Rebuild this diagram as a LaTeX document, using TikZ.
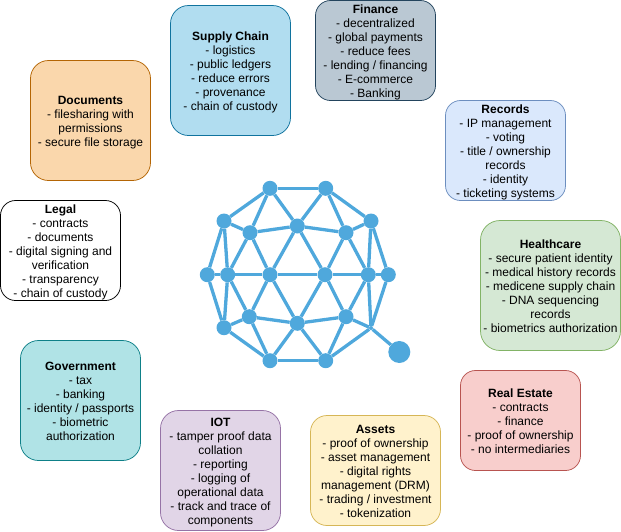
\documentclass[tikz,border=0pt]{standalone}
\usepackage{fontspec}
\setmainfont{Liberation Sans}
\definecolor{logoblue}{HTML}{4FA8DC}
\definecolor{supplyfill}{HTML}{B1DDF0}
\definecolor{supplyline}{HTML}{10739E}
\definecolor{financefill}{HTML}{BAC8D3}
\definecolor{financeline}{HTML}{23445D}
\definecolor{recordsfill}{HTML}{DAE8FC}
\definecolor{recordsline}{HTML}{6C8EBF}
\definecolor{healthfill}{HTML}{D5E8D4}
\definecolor{healthline}{HTML}{82B366}
\definecolor{estatefill}{HTML}{F8CECC}
\definecolor{estateline}{HTML}{B85450}
\definecolor{assetsfill}{HTML}{FFF2CC}
\definecolor{assetsline}{HTML}{D6B656}
\definecolor{iotfill}{HTML}{E1D5E7}
\definecolor{iotline}{HTML}{9673A6}
\definecolor{govfill}{HTML}{B0E3E6}
\definecolor{govline}{HTML}{0E8088}
\definecolor{docsfill}{HTML}{FAD7AC}
\definecolor{docsline}{HTML}{B46504}
% title line plus body, with struts so every card centres the same way
\newcommand{\cardtext}[2]{\rule{0pt}{12pt}\textbf{#1}\\#2\rule[-3pt]{0pt}{3pt}}
\tikzset{
  card/.style={draw, line width=0.75pt, align=center, inner sep=0pt,
    font=\fontsize{12}{14}\selectfont},
  hub/.style={circle, fill=logoblue, inner sep=0pt, minimum size=15pt},
  joint/.style={circle, fill=logoblue, inner sep=0pt, minimum size=4pt},
  tip/.style={circle, fill=logoblue, inner sep=0pt, minimum size=22pt},
  spoke/.style={logoblue, line width=3.3pt}
}
\begin{document}
\begin{tikzpicture}[x=1pt,y=-1pt]
  \useasboundingbox (0,0) rectangle (621,531);

  % outer ring of the logo
  \node[hub] (t1) at (270,188.3) {};
  \node[hub] (t2) at (325.7,188.3) {};
  \node[hub] (ur) at (371,221) {};
  \node[hub] (ul) at (224,221) {};
  \node[hub] (rr) at (388.3,274.7) {};
  \node[hub] (ll) at (207.3,274.7) {};
  \node[hub] (dl) at (224,327.7) {};
  \node[joint] (dr) at (371,328) {};
  \node[hub] (b1) at (270,360.7) {};
  \node[hub] (b2) at (325.7,360.7) {};
  \node[tip] (dot) at (399.3,352) {};

  % inner points
  \node[hub] (a1) at (250,232.7) {};
  \node[hub] (a2) at (297.3,226) {};
  \node[hub] (a3) at (346,232.7) {};
  \node[hub] (m1) at (227.7,274.7) {};
  \node[hub] (m2) at (270,274.7) {};
  \node[hub] (m3) at (325,274.7) {};
  \node[hub] (m4) at (368.3,274.7) {};
  \node[hub] (c1) at (249.3,316.7) {};
  \node[hub] (c2) at (297.3,323.3) {};
  \node[hub] (c3) at (346,316.7) {};

  \foreach \from/\to in {t1/t2,t2/ur,ur/rr,rr/dr,dr/b2,b2/b1,b1/dl,dl/ll,ll/ul,ul/t1,
      t1/a1,t1/a2,t2/a2,t2/a3,ur/a3,ul/a1,a1/a2,a2/a3,ul/m1,ur/m4,
      a1/m1,a1/m2,a2/m2,a2/m3,a3/m3,a3/m4,ll/m1,m1/m2,m2/m3,m3/m4,m4/rr,
      m1/dl,m4/dr,m1/c1,m2/c1,m2/c2,m3/c2,m3/c3,m4/c3,
      dl/c1,c1/c2,c2/c3,c3/dr,c1/b1,c2/b1,c2/b2,c3/b2,dr/dot}{
    \draw[spoke] (\from) -- (\to);
  }

  % the cards
  \node[card, fill=docsfill, draw=docsline, rounded corners=18pt,
    minimum width=120pt, minimum height=120pt] (documents) at (90.5,120.5)
    {\cardtext{Documents}{- filesharing with\\permissions\\- secure file storage}};
  \node[card, fill=supplyfill, draw=supplyline, rounded corners=18pt,
    minimum width=120pt, minimum height=130pt] (supply) at (230.5,70.5)
    {\cardtext{Supply Chain}{- logistics\\- public ledgers\\- reduce errors\\- provenance\\- chain of custody}};
  \node[card, fill=financefill, draw=financeline, rounded corners=15pt,
    minimum width=120pt, minimum height=100pt] (finance) at (375.5,50.5)
    {\cardtext{Finance}{- decentralized\\- global payments\\- reduce fees\\- lending / financing\\- E-commerce\\- Banking}};
  \node[card, fill=recordsfill, draw=recordsline, rounded corners=15pt,
    minimum width=120pt, minimum height=100pt] (records) at (505.5,150.5)
    {\cardtext{Records}{- IP management\\- voting\\- title / ownership\\records\\- identity\\- ticketing systems}};
  \node[card, fill=healthfill, draw=healthline, rounded corners=19.5pt,
    minimum width=140pt, minimum height=130pt] (health) at (550.5,285.5)
    {\cardtext{Healthcare}{- secure patient identity\\- medical history records\\- medicene supply chain\\- DNA sequencing\\records\\- biometrics authorization}};
  \node[card, fill=estatefill, draw=estateline, rounded corners=15pt,
    minimum width=120pt, minimum height=100pt] (estate) at (520.5,420.5)
    {\cardtext{Real Estate}{- contracts\\- finance\\- proof of ownership\\- no intermediaries}};
  \node[card, fill=assetsfill, draw=assetsline, rounded corners=16.5pt,
    minimum width=130pt, minimum height=110pt] (assets) at (375.5,470.5)
    {\cardtext{Assets}{- proof of ownership\\- asset management\\- digital rights\\management (DRM)\\- trading / investment\\- tokenization}};
  \node[card, fill=iotfill, draw=iotline, rounded corners=18pt,
    minimum width=120pt, minimum height=120pt] (iot) at (220.5,470.5)
    {\cardtext{IOT}{- tamper proof data\\collation\\- reporting\\- logging of\\operational data\\- track and trace of\\components}};
  \node[card, fill=govfill, draw=govline, rounded corners=18pt,
    minimum width=120pt, minimum height=120pt] (government) at (80.5,400.5)
    {\cardtext{Government}{- tax\\- banking\\- identity / passports\\- biometric\\authorization}};
  \node[card, fill=white, draw=black, rounded corners=15pt,
    minimum width=120pt, minimum height=100pt] (legal) at (60.5,250.5)
    {\cardtext{Legal}{- contracts\\- documents\\- digital signing and\\verification\\- transparency\\- chain of custody}};
\end{tikzpicture}
\end{document}
